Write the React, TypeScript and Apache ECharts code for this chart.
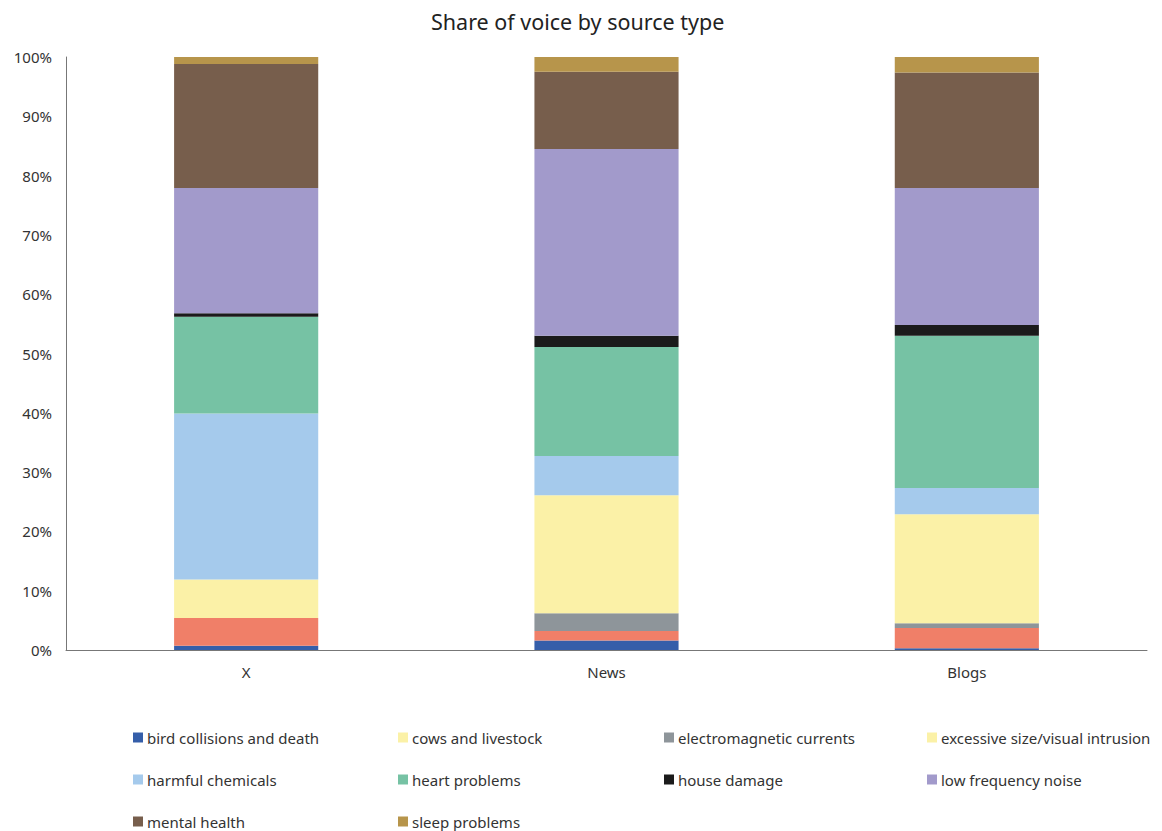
import React, { useEffect, useRef } from "react";
import * as echarts from "echarts";

const sourceTypes = ["X", "News", "Blogs"];

const topicNames = [
  "bird collisions and death",
  "cows and livestock",
  "electromagnetic currents",
  "excessive size/visual intrusion",
  "harmful chemicals",
  "heart problems",
  "house damage",
  "low frequency noise",
  "mental health",
  "sleep problems",
];

// Share (%) of each topic per source type: X, News, Blogs
const birdCollisions = [0.7, 1.6, 0.3];
const cowsLivestock = [4.7, 1.6, 3.4];
const electromagnetic = [0, 3.0, 0.8];
const excessiveSize = [6.5, 19.9, 18.4];
const harmfulChemicals = [28.0, 6.6, 4.4];
const heartProblems = [16.3, 18.4, 25.7];
const houseDamage = [0.6, 1.9, 1.8];
const lowFrequencyNoise = [21.1, 31.5, 23.1];
const mentalHealth = [20.9, 13.0, 19.5];
const sleepProblems = [1.2, 2.5, 2.6];

const yTickLabels = ["0%", "10%", "20%", "30%", "40%", "50%", "60%", "70%", "80%", "90%", "100%"];

const topicValues = [
  birdCollisions,
  cowsLivestock,
  electromagnetic,
  excessiveSize,
  harmfulChemicals,
  heartProblems,
  houseDamage,
  lowFrequencyNoise,
  mentalHealth,
  sleepProblems,
];

const barColors = [
  "#355EA9",
  "#F07F68",
  "#8E959A",
  "#FBF1A7",
  "#A5CAEC",
  "#76C2A4",
  "#1B1B1B",
  "#A29ACB",
  "#775E4C",
  "#B7954B",
];

// legend swatches (livestock swatch is shown in pale yellow)
const legendColors = [
  "#355EA9",
  "#FBF1A7",
  "#8E959A",
  "#FBF1A7",
  "#A5CAEC",
  "#76C2A4",
  "#1B1B1B",
  "#A29ACB",
  "#775E4C",
  "#B7954B",
];

const FONT = "'Noto Sans', sans-serif";

export default function App() {
  const ref = useRef<HTMLDivElement>(null);

  useEffect(() => {
    if (!ref.current) return;
    const chart = echarts.init(ref.current, undefined, { renderer: "svg" });

    const colLeft = [133, 398, 664, 927];
    const rowTop = [730, 772, 814];

    const legends = topicNames.map((name, i) => ({
      show: true,
      left: colLeft[i % 4],
      top: rowTop[Math.floor(i / 4)],
      orient: "horizontal" as const,
      icon: "rect",
      itemWidth: 10,
      itemHeight: 10,
      padding: 0,
      selectedMode: false,
      textStyle: { fontFamily: FONT, fontSize: 15, color: "#333", padding: [0, 0, 0, -1] },
      data: [{ name, itemStyle: { color: legendColors[i] } }],
    }));

    chart.setOption({
      animation: false,
      textStyle: { fontFamily: FONT },
      title: {
        text: "Share of voice by source type",
        left: 426,
        top: 5,
        textStyle: { fontFamily: FONT, fontSize: 21.5, fontWeight: "normal", color: "#222" },
      },
      legend: legends,
      grid: { left: 66, right: 15, top: 57, bottom: 181, containLabel: false },
      xAxis: {
        type: "category",
        data: sourceTypes,
        axisLine: { show: true, lineStyle: { color: "#777", width: 1 } },
        axisTick: { show: false },
        axisLabel: { fontFamily: FONT, fontSize: 15, color: "#333", margin: 14 },
      },
      yAxis: {
        type: "value",
        min: 0,
        max: 100,
        interval: 10,
        axisLine: { show: true, lineStyle: { color: "#777", width: 1 } },
        axisTick: { show: false },
        splitLine: { show: false },
        axisLabel: {
          fontFamily: FONT,
          fontSize: 15,
          color: "#333",
          margin: 14,
          formatter: (v: number) => yTickLabels[Math.round(v / 10)],
        },
      },
      series: topicNames.map((name, i) => ({
        name,
        type: "bar",
        stack: "share",
        barWidth: "40%",
        data: topicValues[i],
        itemStyle: { color: barColors[i] },
      })),
    });

    return () => chart.dispose();
  }, []);

  return (
    <div
      ref={ref}
      style={{ position: "fixed", left: 0, top: 0, width: 1162, height: 831, background: "#fff" }}
    />
  );
}
